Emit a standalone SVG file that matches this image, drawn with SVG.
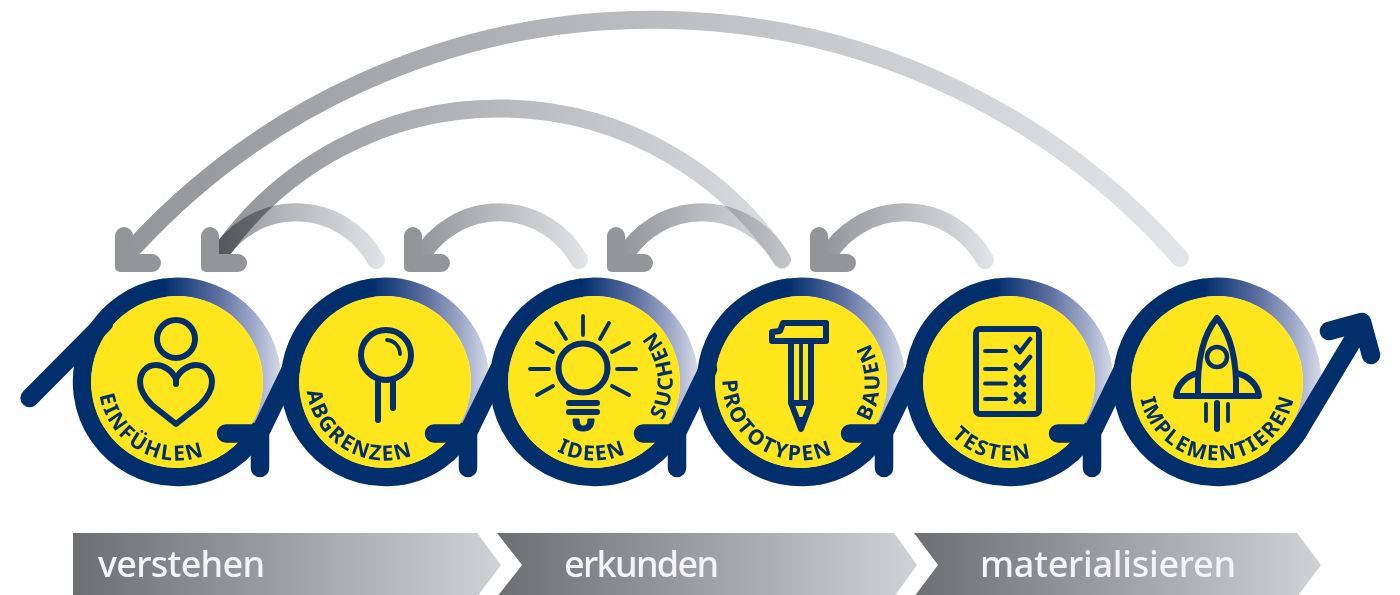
<svg xmlns="http://www.w3.org/2000/svg" width="1400" height="595" viewBox="0 0 1400 595">
<style>
.ringn{fill:none;stroke:#002f6c;stroke-width:18.5}
.ringg{fill:none;stroke:url(#fade);stroke-width:18.5}
.yel{fill:#ffe61c}
.lab{font-family:"Noto Sans","Open Sans",sans-serif;font-weight:700;font-size:21px;fill:#002f6c;text-anchor:middle}
.ic{fill:none;stroke:#002f6c;stroke-width:6;stroke-linecap:round;stroke-linejoin:round}
.th{stroke-width:3.8}
.sp{fill:none;stroke:#002f6c;stroke-width:18.5;stroke-linecap:round;stroke-linejoin:round}
.arc{fill:none;stroke-width:18;stroke-linecap:round;mix-blend-mode:multiply}
.hd{fill:#939598}
.bar{font-family:"Noto Sans","Open Sans",sans-serif;font-size:36px;font-weight:500;fill:#f4f4f4}
</style>
<defs>
<linearGradient id="fade" gradientUnits="userSpaceOnUse" x1="-12" y1="0" x2="105" y2="0">
<stop offset="0" stop-color="#002f6c"/><stop offset=".45" stop-color="#5d6fa0"/><stop offset=".8" stop-color="#a8b2cd"/><stop offset="1" stop-color="#d8dce8"/>
</linearGradient>
<linearGradient id="g1" gradientUnits="userSpaceOnUse" x1="124" y1="0" x2="1185" y2="0"><stop offset="0" stop-color="#939598"/><stop offset="1" stop-color="#e3e4e6"/></linearGradient>
<linearGradient id="g2" gradientUnits="userSpaceOnUse" x1="215" y1="0" x2="790" y2="0"><stop offset="0" stop-color="#939598"/><stop offset="1" stop-color="#dcdde0"/></linearGradient>
<linearGradient id="s1" gradientUnits="userSpaceOnUse" x1="215" y1="0" x2="385" y2="0"><stop offset="0" stop-color="#939598"/><stop offset="1" stop-color="#e3e4e6"/></linearGradient>
<linearGradient id="s2" gradientUnits="userSpaceOnUse" x1="418" y1="0" x2="588" y2="0"><stop offset="0" stop-color="#939598"/><stop offset="1" stop-color="#e3e4e6"/></linearGradient>
<linearGradient id="s3" gradientUnits="userSpaceOnUse" x1="621" y1="0" x2="791" y2="0"><stop offset="0" stop-color="#939598"/><stop offset="1" stop-color="#e3e4e6"/></linearGradient>
<linearGradient id="s4" gradientUnits="userSpaceOnUse" x1="824" y1="0" x2="994" y2="0"><stop offset="0" stop-color="#939598"/><stop offset="1" stop-color="#e3e4e6"/></linearGradient>
<linearGradient id="b1" gradientUnits="userSpaceOnUse" x1="73" y1="0" x2="501" y2="0"><stop offset="0" stop-color="#6d6e71"/><stop offset="1" stop-color="#d1d2d4"/></linearGradient>
<linearGradient id="b2" gradientUnits="userSpaceOnUse" x1="497" y1="0" x2="917" y2="0"><stop offset="0" stop-color="#6d6e71"/><stop offset="1" stop-color="#d1d2d4"/></linearGradient>
<linearGradient id="b3" gradientUnits="userSpaceOnUse" x1="914" y1="0" x2="1321" y2="0"><stop offset="0" stop-color="#6d6e71"/><stop offset="1" stop-color="#d1d2d4"/></linearGradient>
<path id="ta" d="M0,-78.500 A78.500,78.500 0 1 0 0,78.500 A78.500,78.500 0 1 0 0,-78.500"/>
<g id="disc">
<path class="ringg" d="M-24.600,-91.800 A95,95 0 0 1 84,44.500"/>
<path class="ringn" d="M84,44.500 A95,95 0 1 1 -12,-94.200"/>
<circle class="yel" r="86"/>
</g>
<path id="head" class="hd" d="M0,9 a9,9 0 0 1 18,0 V27 H37 a9,9 0 0 1 0,18 H5 a5,5 0 0 1 -5,-5 Z"/>
</defs>

<g id="node-einfuehlen">
<use href="#disc" x="177" y="382"/>
<g transform="translate(177,382)"><text class="lab" letter-spacing="2"><textPath href="#ta" startOffset="206">EINFÜHLEN</textPath></text></g>
<circle class="ic" cx="176" cy="339" r="19"/>
<path class="ic" d="M176,384 V379 C172,370 163,365 156,365 C146,365 140,373 140,382 C140,392 146,399 152,405 L176,424 L200,405 C206,399 212,392 212,382 C212,373 206,365 196,365 C189,365 180,370 176,379"/>
</g>

<g id="node-abgrenzen">
<use href="#disc" x="385" y="382"/>
<g transform="translate(385,382)"><text class="lab" letter-spacing="1.800"><textPath href="#ta" startOffset="204">ABGRENZEN</textPath></text></g>
<circle class="ic" cx="386" cy="355" r="25"/>
<path class="ic th" d="M387,340 A14,14 0 0 1 400,354"/>
<path class="ic" d="M378,382 V420 M393,382 V408"/>
</g>

<g id="node-ideen">
<use href="#disc" x="594" y="382"/>
<g transform="translate(594,382)"><text class="lab" letter-spacing="1.800"><textPath href="#ta" startOffset="244">IDEEN</textPath></text><text class="lab" letter-spacing="2"><textPath href="#ta" startOffset="378">SUCHEN</textPath></text></g>
<circle class="ic" cx="583" cy="368" r="24.500"/>
<path class="ic th" d="M583,316 V335 M556,323 L566,339 M609,323 L600,339 M537,343 L553,352 M629,343 L612,352 M530,369 H549 M636,369 H617 M537,395 L553,386 M629,395 L612,386"/>
<path class="ic" d="M569,403 H597 M569,412 H597"/>
<path fill="#002f6c" stroke="#002f6c" stroke-linejoin="round" d="M573,419 H579 C579,424 581,426 583,426 C586,426 588,424 588,419 H594 C594,428 590,431 583,431 C576,431 573,428 573,419 Z"/>
</g>

<g id="node-prototypen">
<use href="#disc" x="801" y="382"/>
<g transform="translate(801,382)"><text class="lab" letter-spacing="2.200"><textPath href="#ta" startOffset="201">PROTOTYPEN</textPath></text><text class="lab" letter-spacing="2.200"><textPath href="#ta" startOffset="370">BAUEN</textPath></text></g>
<path class="ic" d="M783,323 H826 V341 H772 V332 L780,331 Z"/>
<path class="ic" d="M791,343 V403 L801,429 L811,403 V343 M791,403 H811"/>
<path class="ic th" d="M801,343 V401"/>
<path fill="#002f6c" d="M795,417 H807 L801,431 Z"/>
</g>

<g id="node-testen">
<use href="#disc" x="1009" y="382"/>
<g transform="translate(1009,382)"><text class="lab" letter-spacing="2"><textPath href="#ta" startOffset="226">TESTEN</textPath></text></g>
<rect class="ic" x="976" y="329" width="63" height="85" rx="4"/>
<path class="ic th" d="M985,351 H1006 M985,369 H1006 M985,383.500 H1006 M985,399 H1006"/>
<path class="ic" style="stroke-width:4.500" d="M1016,347 L1020,352 L1030,339 M1016,365 L1020,369 L1030,357 M1016,377 L1024,385 M1024,377 L1016,385 M1016,394 L1024,402 M1024,394 L1016,402"/>
</g>

<g id="node-implementieren">
<use href="#disc" x="1217" y="382"/>
<g transform="translate(1217,382)"><text class="lab" letter-spacing="1.800"><textPath href="#ta" startOffset="247">IMPLEMENTIEREN</textPath></text></g>
<path class="ic" d="M1198,394 C1197,360 1203,335 1217,318 C1231,335 1237,360 1236,394"/>
<circle class="ic" cx="1217" cy="357" r="10" style="stroke-width:4.500"/>
<path class="ic" d="M1176,396 H1259 M1176,396 C1177,386 1185,376 1198,373 M1259,396 C1258,386 1250,376 1236,373"/>
<path class="ic" d="M1217,403 V429"/>
<path class="ic th" d="M1206,404 V421 M1228,404 V421"/>
</g>

<g id="connectors">
<g id="spiral">
<path class="sp" d="M29.600,398 L104,323"/>
<path class="sp" d="M255,443 L291,369 M226,433.500 H260 V468"/>
<path class="sp" d="M463,443 L499,369 M434,433.500 H468 V468"/>
<path class="sp" d="M672,443 L708,369 M643,433.500 H677 V468"/>
<path class="sp" d="M879,443 L915,369 M850,433.500 H884 V468"/>
<path class="sp" d="M1087,443 L1123,369 M1058,433.500 H1092 V468"/>
<path class="sp" d="M1278,452 Q1290,444 1298,432 L1362,325 M1329,331 L1362,322 L1371,355"/>
</g>
<g id="feedback">
<path class="arc" stroke="url(#g1)" d="M1180,258 A704,704 0 0 0 134,247"/>
<path class="arc" stroke="url(#g2)" d="M782,259 A341,341 0 0 0 224,248"/>
<path class="arc" stroke="url(#s1)" d="M376,260 A91,91 0 0 0 216,260"/>
<path class="arc" stroke="url(#s2)" d="M579,260 A91,91 0 0 0 419,260"/>
<path class="arc" stroke="url(#s3)" d="M782,260 A91,91 0 0 0 622,260"/>
<path class="arc" stroke="url(#s4)" d="M985,260 A91,91 0 0 0 825,260"/>
<use href="#head" x="115" y="227"/>
<use href="#head" x="201" y="227"/>
<use href="#head" x="404" y="227"/>
<use href="#head" x="607" y="227"/>
<use href="#head" x="810" y="227"/>
</g>
</g>

<g id="phase-verstehen">
<path fill="url(#b1)" d="M73,533 H477 L501,565 L477,597 H73 Z"/>
<text class="bar" x="98" y="577" textLength="167">verstehen</text>
</g>
<g id="phase-erkunden">
<path fill="url(#b2)" d="M497,533 H894 L917,565 L894,597 H497 L522,565 Z"/>
<text class="bar" x="564" y="577" textLength="155">erkunden</text>
</g>
<g id="phase-materialisieren">
<path fill="url(#b3)" d="M914,533 H1297 L1321,565 L1297,597 H914 L938,565 Z"/>
<text class="bar" x="980" y="577" textLength="256">materialisieren</text>
</g>
</svg>
